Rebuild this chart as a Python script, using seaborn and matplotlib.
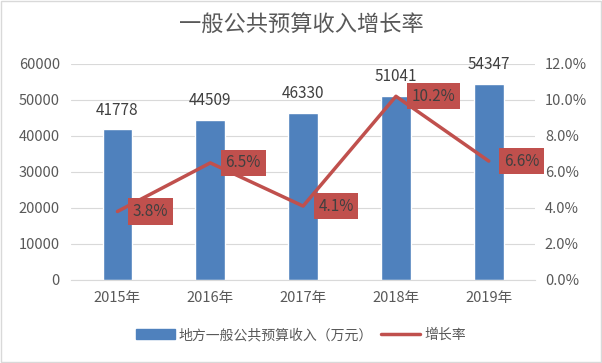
import numpy as np
import pandas as pd
import matplotlib
matplotlib.use('Agg')
import matplotlib.pyplot as plt
import seaborn as sns
from matplotlib.ticker import FuncFormatter
from matplotlib.patches import Patch
from matplotlib.lines import Line2D

years = ['2015年', '2016年', '2017年', '2018年', '2019年']
revenue = [41778, 44509, 46330, 51041, 54347]
growth = [3.8, 6.5, 4.1, 10.2, 6.6]

sns.set_style('white')
plt.rcParams['font.family'] = ['Noto Sans CJK SC', 'DejaVu Sans']

bar_color = '#4f81bd'
line_color = '#c0504d'
text_color = '#595959'

df = pd.DataFrame({'year': years, 'revenue': revenue, 'growth': growth})

fig = plt.figure(figsize=(6.02, 3.63), dpi=100)
ax = fig.add_axes([0.118, 0.229, 0.771, 0.595])

sns.barplot(data=df, x='year', y='revenue', color=bar_color, width=0.32,
            saturation=1, ax=ax)
ax.set_ylim(0, 60000)
ax.set_yticks(range(0, 60001, 10000))
ax.yaxis.grid(True, color='#d9d9d9', linewidth=0.8)
ax.set_axisbelow(True)
ax.set_xlabel('')
ax.set_ylabel('')
for s in ['top', 'right', 'left']:
    ax.spines[s].set_visible(False)
ax.spines['bottom'].set_color('#d9d9d9')
ax.tick_params(axis='y', length=0, labelsize=10.5, colors=text_color, pad=8)
ax.tick_params(axis='x', length=0, labelsize=10.5, colors=text_color, pad=8)
ax.set_xlim(-0.5, 4.5)

# bar value labels
for i, v in enumerate(revenue):
    ax.annotate(str(v), (i, v), xytext=(0, 14), textcoords='offset points',
                ha='center', va='center', fontsize=11, color='#404040')

ax2 = ax.twinx()
sns.lineplot(x=np.arange(len(years)), y=growth, color=line_color, linewidth=2.5, ax=ax2)
ax2.set_ylim(0, 12)
ax2.set_yticks(np.arange(0, 12.01, 2))
ax2.yaxis.set_major_formatter(FuncFormatter(lambda v, p: f'{v:.1f}%'))
for s in ['top', 'right', 'left', 'bottom']:
    ax2.spines[s].set_visible(False)
ax2.tick_params(axis='y', length=0, labelsize=10.5, colors=text_color, pad=7)

# growth labels in red boxes
for i, g in enumerate(growth):
    ax2.annotate(f'{g}%', (i, g), xytext=(11, 0), textcoords='offset points',
                 ha='left', va='center', fontsize=11, color='#404040',
                 bbox=dict(boxstyle='square,pad=0.3', fc=line_color, ec='none'))

fig.text(0.5, 0.931, '一般公共预算收入增长率', ha='center', va='center', fontsize=16, color=text_color)

handles = [Patch(color=bar_color, label='地方一般公共预算收入（万元）'),
           Line2D([0], [0], color=line_color, linewidth=2.5, label='增长率')]
fig.legend(handles=handles, loc='center', bbox_to_anchor=(0.5, 0.077), ncol=2, frameon=False,
           fontsize=10, labelcolor=text_color, handlelength=2.8, columnspacing=0.6, handletextpad=0.3)

fig.patches.append(plt.Rectangle((0.002, 0.002), 0.996, 0.996, transform=fig.transFigure,
                                 fill=False, ec='#d9d9d9', lw=1))

fig.savefig('out.png', dpi=100)
